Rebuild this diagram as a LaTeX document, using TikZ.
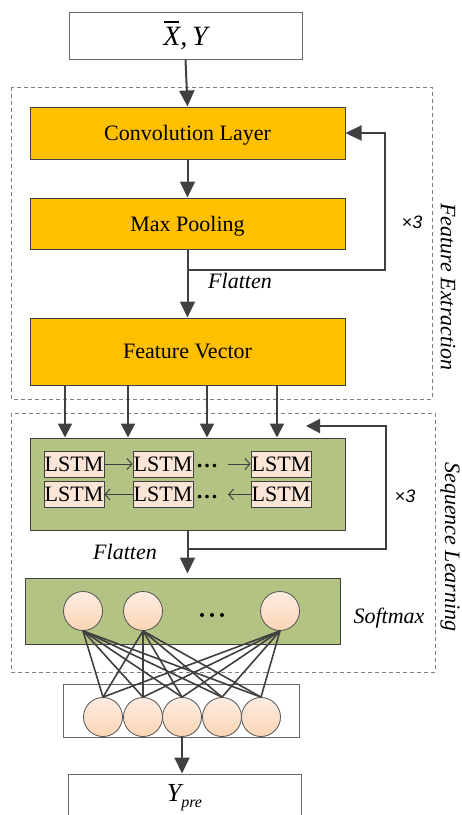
\documentclass[tikz,border=0pt]{standalone}
\usepackage{fontspec}
\setmainfont{Liberation Serif}
\newfontfamily\sansfont{Liberation Sans}
\usetikzlibrary{arrows.meta}
\definecolor{convorange}{RGB}{255,192,0}
\definecolor{lstmgreen}{RGB}{179,195,131}
\definecolor{cellpink}{RGB}{251,229,214}
\definecolor{edgegray}{RGB}{64,64,64}
\definecolor{dashgray}{RGB}{128,128,128}
\begin{document}
\begin{tikzpicture}[
    x=1pt, y=-1pt,
    big/.style={font=\fontsize{22}{26}\selectfont},
    lbl/.style={font=\fontsize{22}{26}\selectfont\itshape, inner sep=0pt},
    rep/.style={font=\fontsize{18}{20}\selectfont\sansfont\itshape, inner sep=0pt},
    iobox/.style={draw=edgegray!80, line width=1pt, fill=white, inner sep=0pt, minimum width=233pt, minimum height=47pt},
    layer/.style={draw=edgegray, line width=1pt, fill=convorange, inner sep=0pt, minimum width=315pt, text depth=0pt, big},
    greenbox/.style={draw=edgegray, line width=1pt, fill=lstmgreen, inner sep=0pt, minimum width=315pt},
    cell/.style={draw=edgegray, line width=0.8pt, fill=cellpink, inner sep=0pt, minimum width=60pt, minimum height=26pt, big},
    neuron/.style={circle, draw=edgegray!90, line width=0.8pt, top color=cellpink!70, bottom color=cellpink!80!orange!90, inner sep=0pt, minimum size=39pt},
    group/.style={draw=dashgray, line width=0.9pt, dash pattern=on 4pt off 3pt},
    arr/.style={draw=edgegray, line width=2pt, -{Triangle[length=16pt,width=15pt]}},
    cellarr/.style={draw=edgegray, line width=1pt, -{Straight Barb[length=5pt,width=11pt]}},
    link/.style={draw=edgegray, line width=1.6pt}
    ]
\useasboundingbox (0,0) rectangle (462,815);
% dashed groups
\draw [group] (11,87) rectangle (432,399);
\draw [group] (11,413) rectangle (435,672);
% feature extraction
\node [iobox] (input) at (185.5,35.5) {\fontsize{28}{32}\selectfont\itshape X\llap{\raisebox{23pt}{\rule{15pt}{1.8pt}}\hspace{1pt}},\,Y};
\node [layer, minimum height=52pt] (conv) at (187.5,133) {Convolution Layer};
\node [layer, minimum height=51pt] (pool) at (187.5,223.5) {Max Pooling};
\node [layer, minimum height=67pt] (fvec) at (187.5,351.5) {Feature Vector};
\draw [arr] (input.south) -- (conv.north);
\draw [arr] (conv) -- (pool);
\draw [arr] (pool) -- (fvec);
\coordinate (fb1) at (187.5,270);
\draw [arr] (fb1) -- ++(197.5,0) |- (conv.east);
\node [lbl] (flat1) at (240,281) {Flatten};
\node [rep] (rep1) at (412,222) {×3};
\node [lbl, rotate=-90] (fe) at (448,287) {Feature Extraction};
% sequence learning
\node [greenbox, minimum height=92pt] (lstmbox) at (187.5,484) {};
\foreach \x in {65,128,207,277}
    \draw [arr, -{Triangle[length=14pt,width=14pt]}] (fvec.south -| \x,0) -- (lstmbox.north -| \x,0);
\node [cell] (f1) at (74,464) {LSTM};
\node [cell] (f2) at (163,464) {LSTM};
\node [cell] (f3) at (281,464) {LSTM};
\node [cell] (b1) at (74,494.5) {LSTM};
\node [cell] (b2) at (163,494.5) {LSTM};
\node [cell] (b3) at (281,494.5) {LSTM};
\node [big, inner sep=0pt] (fdots) at (207,466) {\bfseries …};
\node [big, inner sep=0pt] (bdots) at (207,497) {\bfseries …};
\coordinate (fgap) at (228,464);
\coordinate (bgap) at (228,494.5);
\draw [cellarr] (f1) -- (f2);
\draw [cellarr] (fgap) -- (f3);
\draw [cellarr] (b2) -- (b1);
\draw [cellarr] (b3) -- (bgap);
\node [greenbox, minimum height=66pt] (softbox) at (182.5,611) {};
\draw [arr, shorten >=4pt] (lstmbox.south) -- (lstmbox.south |- softbox.north);
\coordinate (fb2) at (187.5,549);
\coordinate (fb2end) at (306,426);
\draw [arr, -{Triangle[length=14pt,width=14pt]}] (fb2) -- ++(198.5,0) |- (fb2end);
\node [lbl] (flat2) at (125,552) {Flatten};
\node [rep] (rep2) at (405,496) {×3};
\node [lbl] (sm) at (389,618) {Softmax};
\node [lbl, rotate=-90] (sl) at (450,547) {Sequence Learning};
\node [neuron] (s1) at (83,611) {};
\node [neuron] (s2) at (143,611) {};
\node [neuron] (s3) at (280,611) {};
\foreach \x in {202,212,222}
    \fill (\x,615) circle (2pt);
% output layer
\node [iobox, minimum width=236pt, minimum height=53pt] (outbox) at (181,710.5) {};
\foreach \x [count=\i] in {103,143,182,222,261}
    \node [neuron] (o\i) at (\x,717) {};
\foreach \a in {1,2,3}
    \foreach \b in {1,...,5}
        \draw [link] (s\a.south) -- (o\b.north);
\node [iobox] (output) at (184.5,797.5) {\fontsize{26}{30}\selectfont\itshape Y\raisebox{-6pt}{\fontsize{16}{18}\selectfont pre}};
\draw [arr] (o3.south) -- (o3.south |- output.north);
\end{tikzpicture}
\end{document}
